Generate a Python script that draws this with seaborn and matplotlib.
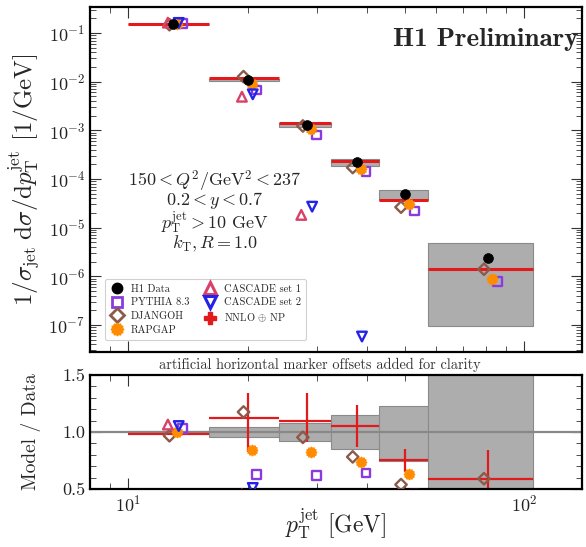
import numpy as np
import pandas as pd
import matplotlib
matplotlib.use("Agg")
import matplotlib.pyplot as plt
from matplotlib.path import Path
from matplotlib.lines import Line2D
from matplotlib.ticker import (LogLocator, NullFormatter, MultipleLocator,
                               FormatStrFormatter, FixedLocator)
import seaborn as sns

# ---- measurement: normalised jet cross section vs pT(jet) ----
bin_edges = [10.0, 16.0, 24.0, 32.5, 43.0, 57.0, 105.0]
data_pt = [13.0, 20.0, 28.25, 37.75, 50.0, 81.0]
h1_data = [0.153, 0.0108, 1.29e-3, 2.20e-4, 4.90e-5, 2.37e-6]
h1_unc_up = [0.012, 0.048, 0.075, 0.15, 0.23, 1.03]
h1_unc_dn = [0.012, 0.048, 0.075, 0.15, 0.25, 0.96]

# ---- fixed-order prediction ----
nnlo = [0.1507, 0.0121, 1.42e-3, 2.31e-4, 3.68e-5, 1.40e-6]
nnlo_unc_up = [0.01, 0.20, 0.22, 0.18, 0.13, 0.43]
nnlo_unc_dn = [0.01, 0.26, 0.17, 0.17, 0.13, 0.40]

# ---- MC generators ----
pythia = [0.158, 6.75e-3, 8.0e-4, 1.41e-4, 2.20e-5, 7.8e-7]
djangoh = [0.148, 0.0127, 1.23e-3, 1.72e-4, 2.64e-5, 1.40e-6]
rapgap = [0.1535, 9.1e-3, 1.06e-3, 1.63e-4, 3.10e-5, 8.9e-7]
cascade1 = [0.163, 4.9e-3, 1.83e-5, np.nan, np.nan, np.nan]
cascade2 = [0.161, 5.5e-3, 2.7e-5, 5.8e-8, np.nan, np.nan]

sns.set_style("ticks")
plt.rcParams.update({
    "font.family": "cmr10",
    "mathtext.fontset": "cm",
    "axes.formatter.use_mathtext": True,
    "axes.unicode_minus": True,
    "xtick.direction": "in", "ytick.direction": "in",
    "xtick.top": True, "ytick.right": True,
    "xtick.major.size": 8, "ytick.major.size": 8,
    "xtick.minor.size": 4, "ytick.minor.size": 4,
    "xtick.major.width": 0.8, "ytick.major.width": 0.8,
    "xtick.minor.width": 0.6, "ytick.minor.width": 0.6,
    "xtick.color": "#333333", "ytick.color": "#333333",
    "xtick.labelcolor": "#222222", "ytick.labelcolor": "#222222",
    "axes.linewidth": 1.6, "axes.edgecolor": "black",
})

RED = "#e31a1c"
BAND = "#adadad"
BAND_EDGE = "#8a8a8a"

# marker styles and small horizontal offsets (multiplicative on pT)
cog = Path.unit_regular_star(12, 0.8)
models = [
    ("PYTHIA 8.3", pythia, dict(marker="s", s=40, color="#8a3be0", open=True), 1.056),
    ("DJANGOH", djangoh, dict(marker="D", s=34, color="#8c5a4a", open=True), 0.977),
    ("RAPGAP", rapgap, dict(marker=cog, s=60, color="#ff8c00", open=False), 1.0235),
    ("CASCADE set 1", cascade1, dict(marker="^", s=48, color="#d9406a", open=True), 0.968),
    ("CASCADE set 2", cascade2, dict(marker="v", s=48, color="#2222e8", open=True), 1.031),
]

fig = plt.figure(figsize=(5.86, 5.47), dpi=100)
ax1 = fig.add_axes([0.1536, 0.3565, 0.8396, 0.6307])
ax2 = fig.add_axes([0.1536, 0.106, 0.8396, 0.2084], sharex=ax1)

edges = np.array(bin_edges)
lo_e, hi_e = edges[:-1], edges[1:]
widths = hi_e - lo_e
d = np.array(h1_data)
up = np.array(h1_unc_up)
dn = np.array(h1_unc_dn)
pt = np.array(data_pt)
nn = np.array(nnlo)
nup = np.array(nnlo_unc_up)
ndn = np.array(nnlo_unc_dn)


def draw_model(ax, xv, yv, st, z):
    df = pd.DataFrame({"pt": xv, "val": yv}).dropna()
    kw = dict(marker=st["marker"], s=st["s"], linewidth=1.7, zorder=z, legend=False)
    if st["open"]:
        kw.update(facecolor="none", edgecolor=st["color"], color=st["color"])
    else:
        kw.update(color=st["color"], edgecolor=st["color"], linewidth=0.8)
    sns.scatterplot(data=df, x="pt", y="val", ax=ax, **kw)


# ---------------- upper panel ----------------
ax1.bar(lo_e, d * (up + dn), bottom=d * (1 - dn), width=widths, align="edge",
        color=BAND, edgecolor=BAND_EDGE, linewidth=0.8, zorder=1)
ax1.hlines(nn, lo_e, hi_e, color=RED, linewidth=2.2, zorder=2)
for i, (name, vals, st, off) in enumerate(models):
    draw_model(ax1, pt * off, vals, st, 3 + i * 0.1)
sns.scatterplot(x=pt, y=d, ax=ax1, marker="o", s=50, color="black",
                edgecolor="black", linewidth=0.5, zorder=5, legend=False)

ax1.set_xscale("log")
ax1.set_yscale("log")
ax1.set_xlim(8.0, 140.0)
ax1.set_ylim(2.79e-8, 0.342)
ax1.yaxis.set_major_locator(LogLocator(base=10, numticks=20))
ax1.yaxis.set_minor_locator(LogLocator(base=10, subs=np.arange(2, 10), numticks=100))
ax1.yaxis.set_minor_formatter(NullFormatter())
ax1.tick_params(axis="x", which="both", labelbottom=False)
ax1.tick_params(axis="y", labelsize=13)
ax1.set_xlabel("")
ax1.set_ylabel(r"$1/\sigma_{\rm jet}\;{\rm d}\sigma/{\rm d}p_{\rm T}^{\rm jet}$ [1/GeV]",
               fontsize=18)
ax1.yaxis.set_label_coords(-0.1, 0.5)

ax1.text(0.992, 0.905, "H1 Preliminary", transform=ax1.transAxes, ha="right",
         va="center", fontsize=19.5, family="cmb10")

info = [r"$150 < Q^2/\mathrm{GeV}^2 < 237$", r"$0.2 < y < 0.7$",
        r"$p_\mathrm{T}^\mathrm{jet} > 10\ \mathrm{GeV}$", r"$k_\mathrm{T}, R = 1.0$"]
for txt, yy in zip(info, [0.496, 0.439, 0.375, 0.313]):
    ax1.text(0.254, yy, txt, transform=ax1.transAxes, ha="center", va="center",
             fontsize=13)

handles = [Line2D([], [], marker="o", color="black", linestyle="none", markersize=7.5)]
for name, vals, st, off in models[:3]:
    if st["open"]:
        handles.append(Line2D([], [], marker=st["marker"], linestyle="none",
                              markerfacecolor="none", markeredgecolor=st["color"],
                              markeredgewidth=2, markersize=7))
    else:
        handles.append(Line2D([], [], marker=st["marker"], linestyle="none",
                              color=st["color"], markersize=9))
for name, vals, st, off in models[3:]:
    handles.append(Line2D([], [], marker=st["marker"], linestyle="none",
                          markerfacecolor="none", markeredgecolor=st["color"],
                          markeredgewidth=2.2, markersize=8))
handles.append(Line2D([], [], marker="P", linestyle="none", color=RED, markersize=8))
labels = ["H1 Data"] + [m[0] for m in models] + [r"NNLO $\oplus$ NP"]
leg = ax1.legend(handles, labels, ncol=2, loc="lower left",
                 bbox_to_anchor=(0.03, 0.035), borderaxespad=0, fontsize=7.5,
                 frameon=True, fancybox=True, framealpha=0.9, edgecolor="#cccccc",
                 labelspacing=0.4, handletextpad=0.6, columnspacing=1.3,
                 borderpad=0.5, handlelength=1.4)
leg.get_frame().set_linewidth(0.8)

# ---------------- ratio panel ----------------
ax2.bar(lo_e, up + dn, bottom=1 - dn, width=widths, align="edge",
        color=BAND, edgecolor=BAND_EDGE, linewidth=0.8, zorder=1)
ax2.axhline(1.0, color="#888888", linewidth=1.6, zorder=1.5)
r_nn = nn / d
ax2.hlines(r_nn, lo_e, hi_e, color=RED, linewidth=1.6, zorder=2)
ax2.vlines(pt, r_nn * (1 - ndn), r_nn * (1 + nup), color=RED, linewidth=1.6, zorder=2)
for i, (name, vals, st, off) in enumerate(models):
    draw_model(ax2, pt * off, np.array(vals) / d, st, 3 + i * 0.1)

ax2.set_xscale("log")
ax2.set_xlim(8.0, 140.0)
ax2.set_ylim(0.5, 1.5)
ax2.yaxis.set_major_locator(FixedLocator([0.5, 1.0, 1.5]))
ax2.yaxis.set_minor_locator(MultipleLocator(0.1))
ax2.yaxis.set_major_formatter(FormatStrFormatter("%.1f"))
ax2.xaxis.set_major_locator(LogLocator(base=10, numticks=10))
ax2.xaxis.set_minor_locator(LogLocator(base=10, subs=np.arange(2, 10), numticks=100))
ax2.xaxis.set_minor_formatter(NullFormatter())
ax2.tick_params(axis="both", labelsize=13)
ax2.set_xlabel(r"$p_{\rm T}^{\rm jet}$ [GeV]", fontsize=17, labelpad=-6)
ax2.set_ylabel("Model / Data", fontsize=14)
ax2.yaxis.set_label_coords(-0.1, 0.5)

fig.text(0.546, 0.333, "artificial horizontal marker offsets added for clarity",
         ha="center", va="center", fontsize=10.3, color="#333333")

fig.savefig("out.png", dpi=100)
